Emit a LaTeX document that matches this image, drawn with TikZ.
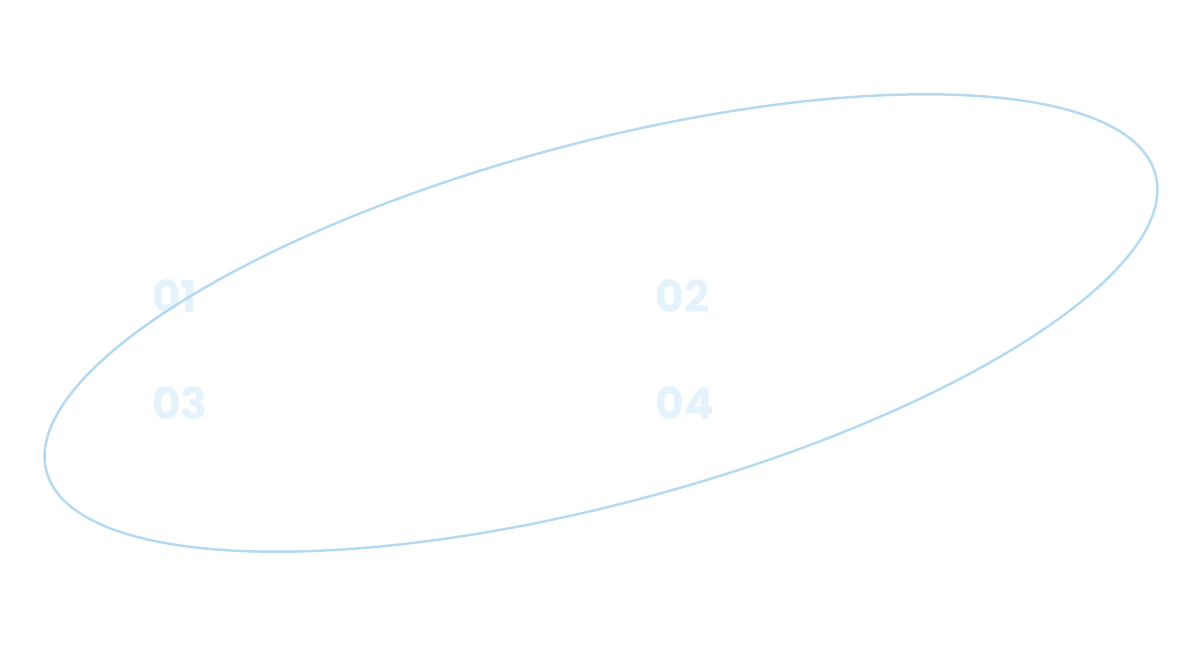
\documentclass[tikz,border=0pt]{standalone}
\usepackage{fontspec}
\setmainfont{Poppins}
\usepackage{tikz}
\usetikzlibrary{positioning}
\definecolor{ringblue}{RGB}{180,218,243}
\definecolor{numblue}{RGB}{228,242,251}

\begin{document}
\begin{tikzpicture}[every node/.style={font=\fontsize{25}{25}\selectfont\bfseries}]
  \useasboundingbox (0,0) rectangle (24.08,12.92);
  % ============ STEP NUMBERS ============
  % baselines at 6.68 (top row) and 4.54 (bottom row)
  \begin{scope}[every node/.append style={text=numblue, inner sep=0pt, anchor=base west}]
    \node (num01) at (3.04,6.68)  {01};
    \node (num02) at (13.10,6.68) {02};
    \node (num03) at (3.04,4.54)  {03};
    \node (num04) at (13.10,4.54) {04};
  \end{scope}

  % ============ TILTED RING ============
  \draw[ringblue, line width=1.4pt, rotate around={15:(12.02,6.46)}]
    (12.02,6.46) ellipse [x radius=11.48, y radius=3.60];
\end{tikzpicture}
\end{document}
